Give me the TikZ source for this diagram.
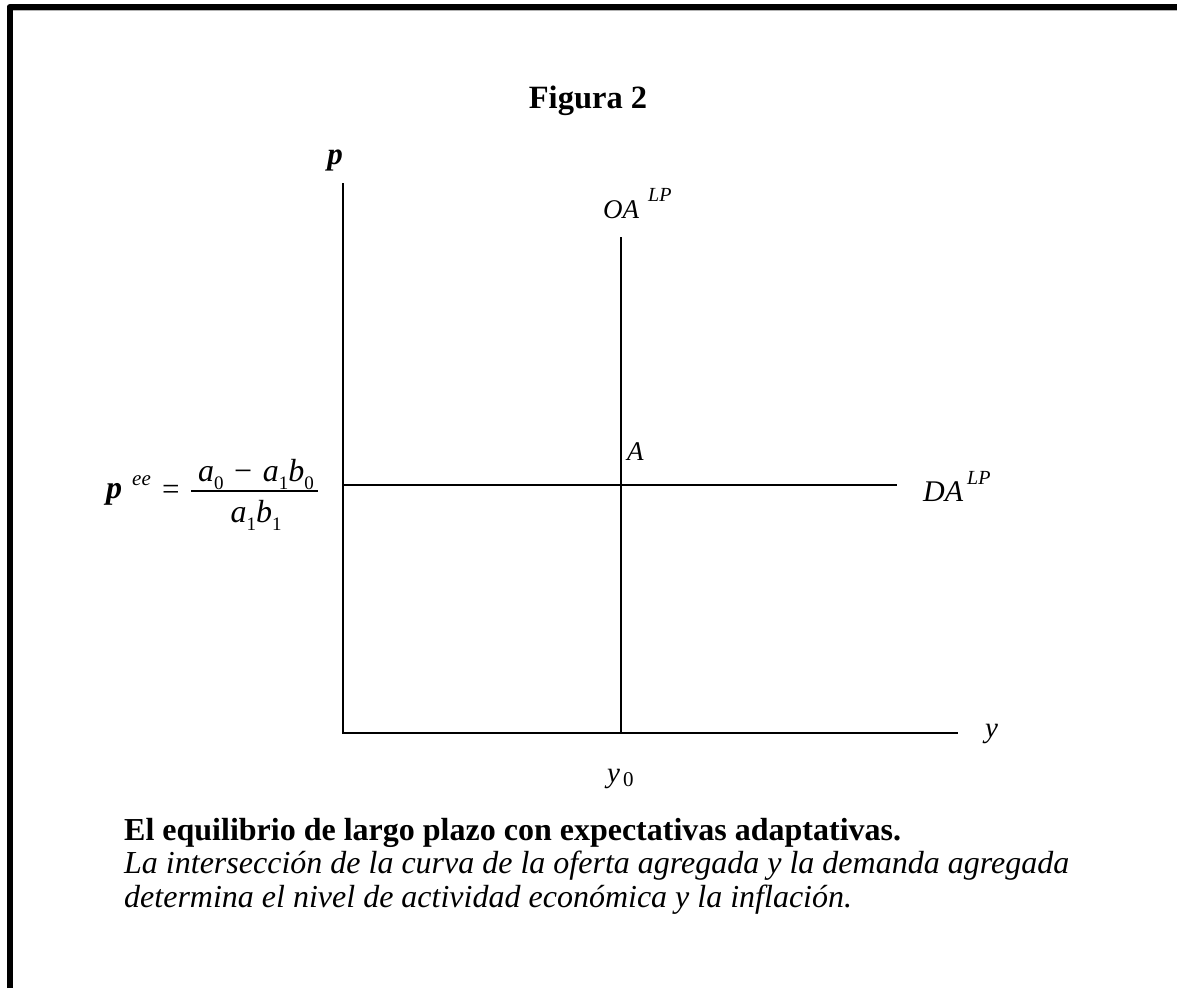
\documentclass[tikz,border=0pt]{standalone}
\usepackage{fontspec}
\usepackage{amsmath}
\setmainfont{Liberation Serif}
\newcommand{\lowsub}[1]{\raisebox{-0.28em}{\fontsize{19}{20}\selectfont\upshape #1}}
\begin{document}
\begin{tikzpicture}[x=1pt,y=-1pt,
  axis/.style={line width=1.6pt},
  curve/.style={line width=1.3pt},
  lbl/.style={inner sep=0pt,font=\fontsize{27}{30}\selectfont\itshape},
  captext/.style={inner sep=0pt,anchor=base west}]
\useasboundingbox (0,0) rectangle (1177,988);
\fill[white] (0,0) rectangle (1177,988);
% frame
\draw[gray!60,line width=1pt] (12.5,988) -- (12.5,10.5) -- (1177,10.5);
\draw[line width=6pt,line join=round] (9.5,988) -- (9.5,7) -- (1177,7);
% title
\node[inner sep=0pt,anchor=base,font=\fontsize{32.5}{36}\selectfont\bfseries] (title) at (588,108) {Figura 2};
% axes
\coordinate (O) at (343,733);
\coordinate (ytop) at (343,183);
\coordinate (xend) at (958,733);
\draw[axis] (ytop) -- (O) -- (xend);
\node[inner sep=0pt,font=\fontsize{31}{36}\selectfont\bfseries\itshape,anchor=base] (plab) at (335,164) {p};
\node[lbl,anchor=base west,font=\fontsize{29}{32}\selectfont\itshape] (ylab) at (985,737) {y};
% OA line
\coordinate (oatop) at (621,237);
\coordinate (oabot) at (621,733);
\draw[curve] (oatop) -- (oabot);
\node[lbl,anchor=base west] (oalab) at (603,218) {OA\,\,\raisebox{0.6em}{\fontsize{20}{22}\selectfont LP}};
% DA line
\coordinate (dal) at (343,485);
\coordinate (dar) at (897,485);
\draw[curve] (dal) -- (dar);
\node[lbl,anchor=base west,font=\fontsize{30}{32}\selectfont\itshape] (dalab) at (923,501) {DA\kern4pt\raisebox{0.55em}{\fontsize{20}{22}\selectfont LP}};
\node[lbl,anchor=base west] (alab) at (627,460) {A};
\node[lbl,anchor=base west,font=\fontsize{29}{32}\selectfont\itshape] (y0lab) at (607,782) {y\kern3pt\raisebox{-0.15em}{\fontsize{21}{22}\selectfont\upshape 0}};
% equilibrium price label
\node[inner sep=0pt,anchor=base west,font=\fontsize{32}{36}\selectfont\bfseries\itshape] (pee) at (106,498) {p};
\node[inner sep=0pt,anchor=base west,font=\fontsize{21}{22}\selectfont\itshape] (ee) at (132,485) {ee};
\node[inner sep=0pt,anchor=base west,font=\fontsize{31}{34}\selectfont] (eq) at (162,499) {=};
\draw[line width=1.4pt] (191,491) coordinate (barl) -- (318,491) coordinate (barr);
\node[inner sep=0pt,anchor=base,font=\fontsize{32}{34}\selectfont\itshape] (num) at (256,481)
 {a\lowsub{0}\,\,\upshape−\,\,\itshape a\lowsub{1}b\lowsub{0}};
\node[inner sep=0pt,anchor=base,font=\fontsize{32}{34}\selectfont\itshape] (den) at (256,522)
 {a\lowsub{1}b\lowsub{1}};
% caption
\node[captext,font=\fontsize{32}{34}\selectfont\bfseries] (c1) at (124,840) {El equilibrio de largo plazo con expectativas adaptativas.};
\node[captext,font=\fontsize{32}{34}\selectfont\itshape] (c2) at (124,873) {La intersección de la curva de la oferta agregada y la demanda agregada};
\node[captext,font=\fontsize{32}{34}\selectfont\itshape] (c3) at (124,907) {determina el nivel de actividad económica y la inflación.};
\end{tikzpicture}
\end{document}
